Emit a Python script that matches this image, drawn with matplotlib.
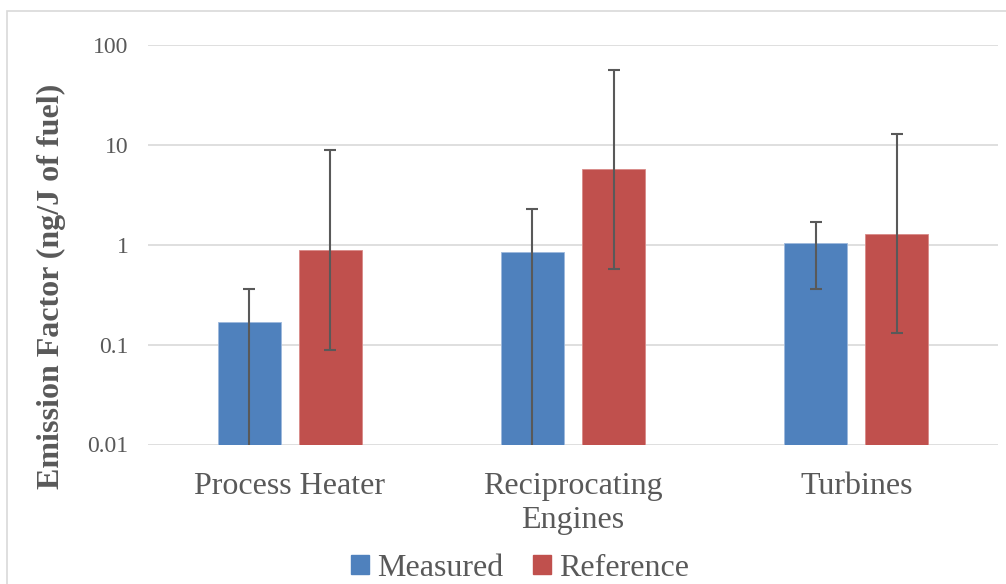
import numpy as np
import matplotlib.pyplot as plt
from matplotlib.patches import Rectangle, Patch

categories = ['Process Heater', 'Reciprocating\nEngines', 'Turbines']
measured = [0.17, 0.85, 1.03]
measured_err = [0.19, 1.42, 0.67]
reference = [0.89, 5.7, 1.28]
reference_low = [0.089, 0.57, 0.13]
reference_high = [8.9, 56.5, 12.8]

blue = '#4F81BD'
red = '#C0504D'
grey = '#595959'

plt.rcParams['font.family'] = ['Liberation Serif', 'DejaVu Serif']

fig = plt.figure(figsize=(10.06, 5.84), dpi=100)
ax = fig.add_axes([148 / 1006, 1 - 444.5 / 584, 850 / 1006, 399.5 / 584])

# outer chart border
fig.patches.append(Rectangle((7 / 1006, -0.1), 1.2, 1 - 11 / 584 + 0.1,
                             transform=fig.transFigure, fill=False,
                             edgecolor='#d9d9d9', linewidth=1.2))

x = np.arange(len(categories))
w = 0.222
off = 0.143

meas = np.array(measured)
merr = np.array(measured_err)
m_low = np.maximum(meas - merr, 1e-4)
m_high = meas + merr
ref = np.array(reference)

ax.bar(x - off, meas, w, color=blue, edgecolor='#9db8dc', linewidth=0.6, zorder=2)
ax.bar(x + off, ref, w, color=red, edgecolor='#d98a88', linewidth=0.6, zorder=2)

ax.errorbar(x - off, meas, yerr=[meas - m_low, m_high - meas], fmt='none',
            ecolor=grey, elinewidth=1.5, capsize=4.5, capthick=1.5, zorder=3)
ax.errorbar(x + off, ref, yerr=[ref - np.array(reference_low), np.array(reference_high) - ref],
            fmt='none', ecolor=grey, elinewidth=1.5, capsize=4.5, capthick=1.5, zorder=3)

ax.set_yscale('log')
ax.set_ylim(0.01, 100)
ax.set_xlim(-0.5, 2.5)
ax.set_yticks([0.01, 0.1, 1, 10, 100])
ax.set_yticklabels(['0.01', '0.1', '1', '10', '100'])
ax.minorticks_off()
ax.set_xticks(x)
ax.set_xticklabels(categories, fontsize=23, color=grey, linespacing=1.2)
ax.tick_params(axis='y', labelsize=17, colors=grey, length=0, pad=14)
ax.tick_params(axis='x', length=0, pad=20)
ax.grid(axis='y', color='#d9d9d9', linewidth=1.2, zorder=0)
ax.set_axisbelow(True)
for s in ax.spines.values():
    s.set_visible(False)

ax.set_ylabel('Emission Factor (ng/J of fuel)', fontsize=23, fontweight='bold',
              color=grey)
ax.yaxis.set_label_coords(-0.097, 0.397)

handles = [Patch(color=blue, label='Measured'), Patch(color=red, label='Reference')]
fig.legend(handles=handles, loc='center', bbox_to_anchor=(0.5 + 17 / 1006, 1 - 568 / 584),
           ncol=2, frameon=False, fontsize=23, labelcolor=grey, handlelength=0.55,
           handleheight=0.55, handletextpad=0.25, columnspacing=0.95)

fig.savefig('out.png', dpi=100)
